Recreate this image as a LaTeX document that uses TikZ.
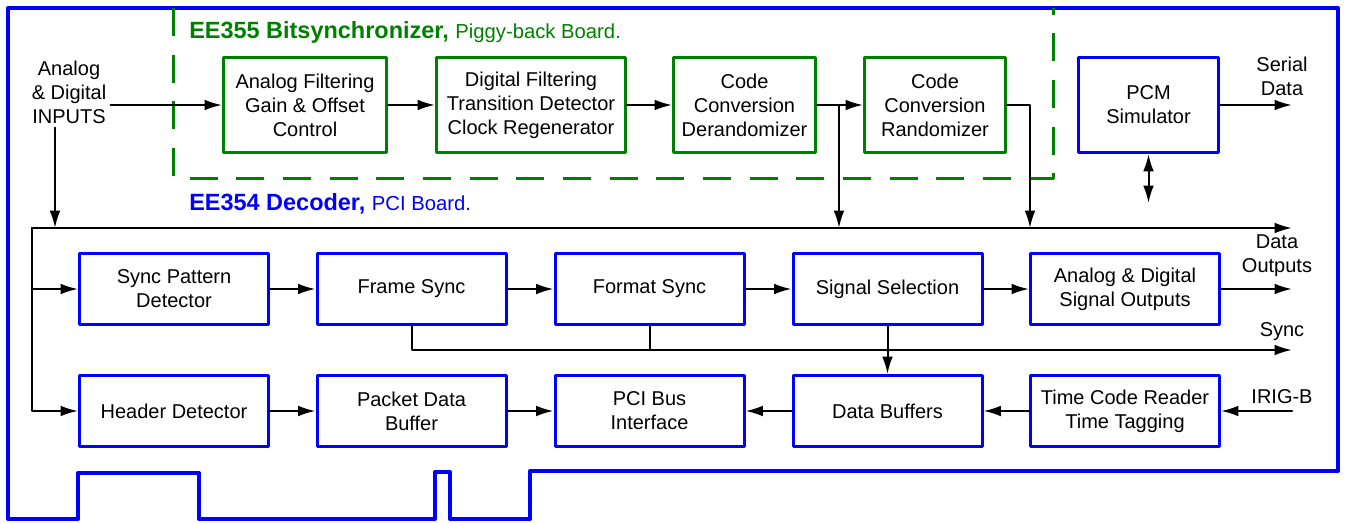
\documentclass[tikz,border=0pt]{standalone}
\usepackage{fontspec}
\setmainfont{Liberation Sans}
\usetikzlibrary{arrows.meta}
\definecolor{boardblue}{RGB}{0,0,255}
\definecolor{bsgreen}{RGB}{0,128,0}

\begin{document}
\begin{tikzpicture}[x=0.75pt, y=-0.75pt, line cap=round, line join=round,
	font=\fontsize{15}{18}\selectfont,
	blk/.style={draw=boardblue, line width=2.25pt, align=center, minimum width=141.75pt, minimum height=53.25pt, inner sep=2pt},
	bsblk/.style={draw=bsgreen, line width=2.25pt, align=center, minimum height=71.25pt, inner sep=2pt},
	arr/.style={line width=1.5pt, -{Latex[length=13pt,width=8pt]}},
	wire/.style={line width=1.5pt},
	lbl/.style={align=center, inner sep=0pt}]
		\useasboundingbox (0,0) rectangle (1346,522);
		
		% Board
		\draw[boardblue, line width=3pt] (8,8) -- (1338,8) -- (1338,471) -- (530,471) -- (530,519) -- (450,519) -- (450,472) -- (435,472) -- (435,519) -- (199,519) -- (199,473) -- (78,473) -- (78,519) -- (8,519) -- cycle;
		\draw[bsgreen, line width=2.25pt, line cap=butt, dash pattern=on 21pt off 14pt] (173,8) -- (173,178) -- (1053,178) -- (1053,8);
		
		% Titles
		\node[anchor=base west, inner sep=0pt, text=bsgreen] (bstitle) at (189,38) {\fontsize{17.6}{20}\selectfont\bfseries EE355 Bitsynchronizer, \fontsize{15.2}{18}\selectfont\mdseries Piggy-back Board.};
		\node[anchor=base west, inner sep=0pt, text=boardblue] (dectitle) at (189,210) {\fontsize{17.6}{20}\selectfont\bfseries EE354 Decoder, \fontsize{15.2}{18}\selectfont\mdseries PCI Board.};
		
		% Bitsynchronizer
		\node[bsblk, minimum width=122.25pt] (afilt) at (305,105) {Analog Filtering\\Gain \& Offset\\Control};
		\node[bsblk, minimum width=141.75pt] (dfilt) at (531,105) {Digital Filtering\\Transition Detector\\Clock Regenerator};
		\node[bsblk, minimum width=106.5pt] (derand) at (744.5,105) {Code\\Conversion\\Derandomizer};
		\node[bsblk, minimum width=105.75pt] (rand) at (935,105) {Code\\Conversion\\Randomizer};
		\node[blk, minimum width=105pt, minimum height=71.25pt] (pcm) at (1148.5,105) {PCM\\Simulator};
		
		% Decoder
		\node[blk] (spd) at (174,289) {Sync Pattern\\Detector};
		\node[blk] (frame) at (411.5,289) {Frame Sync};
		\node[blk] (format) at (649.5,289) {Format Sync};
		\node[blk] (sigsel) at (887.5,289) {Signal Selection};
		\node[blk] (adout) at (1125,289) {Analog \& Digital\\Signal Outputs};
		\node[blk] (hdr) at (174,411) {Header Detector};
		\node[blk] (pdb) at (411.5,411) {Packet Data\\Buffer};
		\node[blk] (pci) at (649.5,411) {PCI Bus\\Interface};
		\node[blk] (dbuf) at (887.5,411) {Data Buffers};
		\node[blk] (tcr) at (1125,411) {Time Code Reader\\Time Tagging};
		
		% Labels
		\node[lbl, inner sep=3pt] (inputs) at (69,92) {Analog\\\& Digital\\INPUTS};
		\node[lbl] (serial) at (1282,76) {Serial\\Data};
		\node[lbl] (datalbl) at (1277,256) {Data\\Outputs};
		\node[lbl] (synclbl) at (1282,332) {Sync};
		\node[lbl] (iriglbl) at (1282,397) {IRIG-B};
		
		% Bus ends
		\coordinate (busl) at (32,228);
		\coordinate (busr) at (1292,228);
		\coordinate (tapin) at (55,228);
		\coordinate (tapd) at (839,228);
		\coordinate (tapr) at (1030,228);
		\coordinate (serout) at (1292,105);
		\coordinate (pcmlink) at (1148.5,203);
		\coordinate (dataout) at (1292,289);
		\coordinate (syncout) at (1292,350);
		\coordinate (irigin) at (1292,411);
		
		% Connectors
		\draw[arr] (inputs.east |- afilt) -- (afilt);
		\draw[arr] (afilt) -- (dfilt);
		\draw[arr] (dfilt) -- (derand);
		\draw[arr] (derand) -- (rand);
		\draw[arr] (derand.east -| tapd) -- (tapd);
		\draw[arr] (rand.east) -| (tapr);
		\draw[arr] (pcm) -- (serout);
		\draw[wire, {Latex[length=13pt,width=8pt]}-{Latex[length=13pt,width=8pt]}] (pcm) -- (pcmlink);
		
		\draw[arr] (busl) -- (busr);
		\draw[arr] (inputs.south -| tapin) -- (tapin);
		\draw[arr] (busl) |- (spd);
		\draw[arr] (busl) |- (hdr);
		
		\draw[arr] (spd) -- (frame);
		\draw[arr] (frame) -- (format);
		\draw[arr] (format) -- (sigsel);
		\draw[arr] (sigsel) -- (adout);
		\draw[arr] (adout) -- (dataout);
		
		\draw[arr] (frame.south) |- (syncout);
		\draw[wire] (format.south) -- (format.south |- syncout);
		\draw[arr] (sigsel) -- (dbuf);
		
		\draw[arr] (hdr) -- (pdb);
		\draw[arr] (pdb) -- (pci);
		\draw[arr] (dbuf) -- (pci);
		\draw[arr] (tcr) -- (dbuf);
		\draw[arr] (irigin) -- (tcr);
	\end{tikzpicture}
\end{document}
